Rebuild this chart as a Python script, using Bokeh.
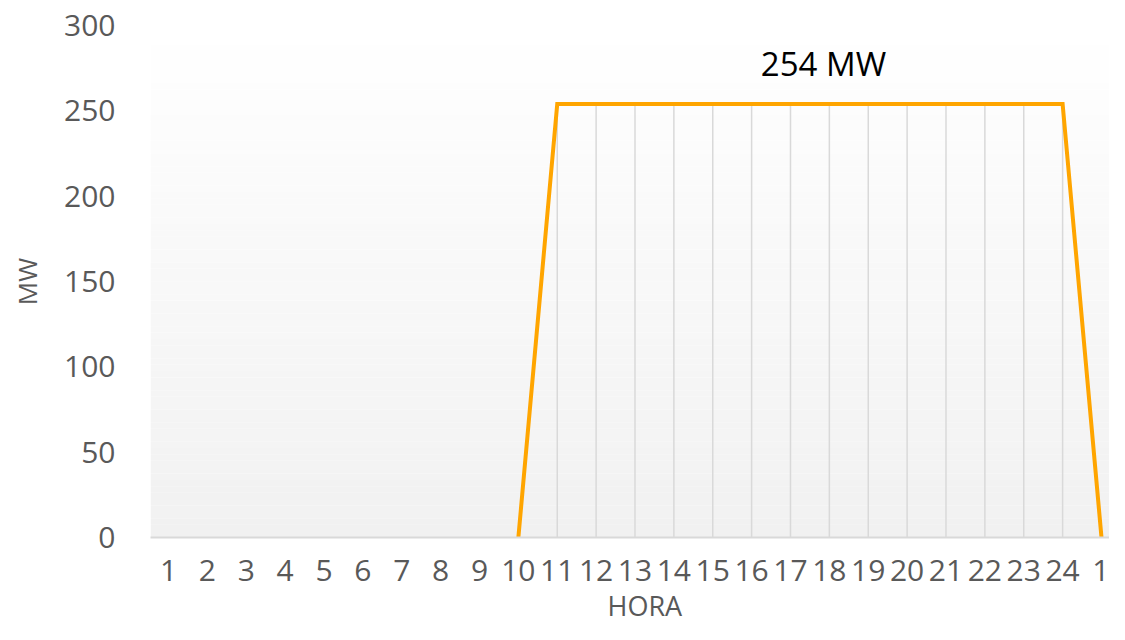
from bokeh.plotting import figure
from bokeh.models import Range1d, FixedTicker, Label, ColumnDataSource, Title
from bokeh.embed import file_html
from bokeh.resources import INLINE
import numpy as np

# Data
hour_labels = [str(h) for h in range(1, 25)] + ["1"]
mw_values = [np.nan] * 9 + [0] + [254] * 14 + [0]
annotation_text = "254 MW"
y_ticks = [0, 50, 100, 150, 200, 250, 300]

FONT = "Open Sans"
GRAY = "#595959"
ORANGE = "#FFA500"

xs = list(range(1, len(hour_labels) + 1))

X0, X1 = 0.537, 25.206
p = figure(width=1109, height=624, output_backend="svg", toolbar_location=None,
           x_range=Range1d(X0, X1), y_range=Range1d(0, 300),
           min_border_left=150, min_border_right=0, min_border_top=25, min_border_bottom=60)
p.outline_line_color = None
p.xgrid.grid_line_color = None
p.ygrid.grid_line_color = None
p.background_fill_color = "white"
p.border_fill_color = "white"

# gradient panel background (white at top to light grey at bottom)
n = 80
edges = np.linspace(0, 300, n + 1)
cols = []
for i in range(n):
    t = 1 - (edges[i] + edges[i + 1]) / 2 / 300  # 1 at bottom
    v = int(round(255 - (255 - 241) * t))
    cols.append("#%02x%02x%02x" % (v, v, v))
p.quad(left=X0, right=X1 + 1, bottom=edges[:-1], top=edges[1:], fill_color=cols, line_color=None)

# drop lines
drop_x = [x for x, v in zip(xs, mw_values) if not np.isnan(v) and v > 0]
drop_top = [v for v in mw_values if not np.isnan(v) and v > 0]
p.segment(x0=drop_x, y0=[0] * len(drop_x), x1=drop_x, y1=drop_top, line_color="#d9d9d9", line_width=1.5)

# main line
src = ColumnDataSource(dict(x=xs, y=mw_values))
p.line("x", "y", source=src, line_color=ORANGE, line_width=4, line_join="miter")

# annotation
p.add_layout(Label(x=17.85, y=277.5, text=annotation_text, text_align="center", text_baseline="middle",
                   text_font=FONT, text_font_size="33px", text_color="black"))

# axes
p.xaxis.ticker = FixedTicker(ticks=xs)
p.xaxis.major_label_overrides = {x: l for x, l in zip(xs, hour_labels)}
p.xaxis.major_tick_line_color = None
p.xaxis.minor_tick_line_color = None
p.xaxis.axis_line_color = "#d9d9d9"
p.xaxis.axis_line_width = 2
p.xaxis.major_label_text_font = FONT
p.xaxis.major_label_text_font_size = "30px"
p.xaxis.major_label_text_color = GRAY
p.xaxis.major_label_standoff = 16

# x-axis title below the tick labels
p.add_layout(Title(text="HORA", align="left", offset=457, standoff=2,
                   text_font=FONT, text_font_size="27px", text_font_style="normal",
                   text_color=GRAY), "below")

p.yaxis.ticker = FixedTicker(ticks=y_ticks)
p.yaxis.major_tick_line_color = None
p.yaxis.minor_tick_line_color = None
p.yaxis.axis_line_color = None
p.yaxis.major_label_text_font = FONT
p.yaxis.major_label_text_font_size = "30px"
p.yaxis.major_label_text_color = GRAY
p.yaxis.major_label_standoff = 29
p.yaxis.axis_label = "MW"
p.yaxis.axis_label_text_font = FONT
p.yaxis.axis_label_text_font_size = "26px"
p.yaxis.axis_label_text_font_style = "normal"
p.yaxis.axis_label_text_color = GRAY
p.yaxis.axis_label_standoff = 16

open("out.html", "w").write(file_html(p, INLINE))
